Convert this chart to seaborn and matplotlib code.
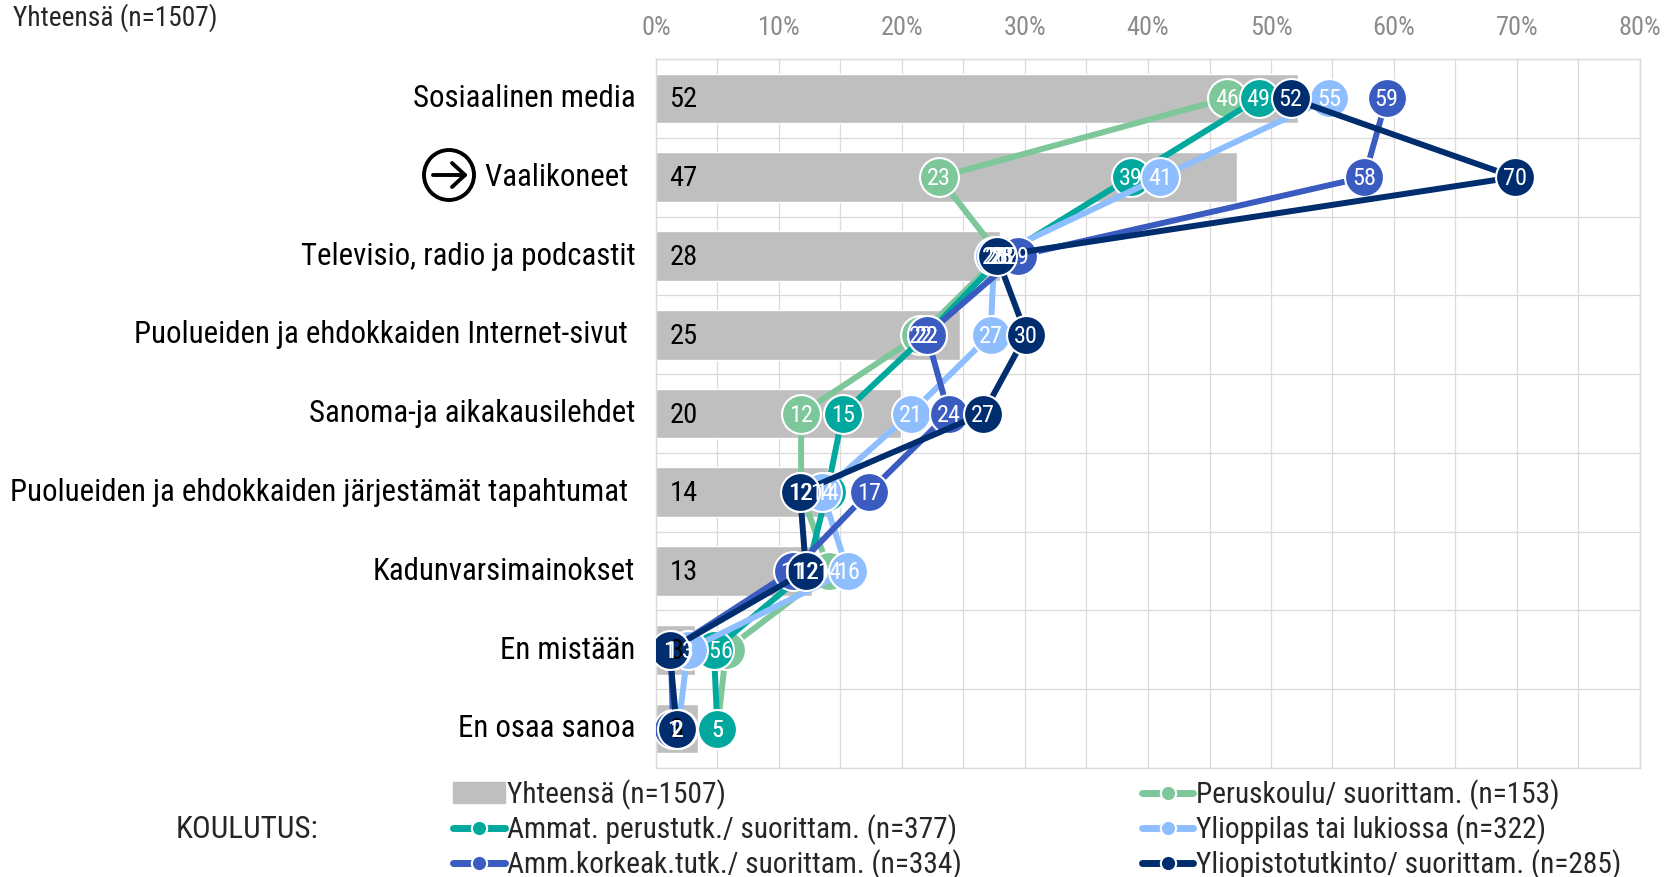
import numpy as np
import seaborn as sns
import matplotlib.pyplot as plt
from matplotlib.lines import Line2D
from matplotlib.patches import Patch, Ellipse
from matplotlib.transforms import ScaledTranslation

# ===============================
# 1. Data
# ===============================
categories = ["Sosiaalinen media", "Vaalikoneet ", "Televisio, radio ja podcastit",
              "Puolueiden ja ehdokkaiden Internet-sivut ", "Sanoma-ja aikakausilehdet",
              "Puolueiden ja ehdokkaiden järjestämät tapahtumat ", "Kadunvarsimainokset",
              "En mistään", "En osaa sanoa"]
total = [52.2, 47.2, 28.0, 24.7, 19.9, 14.0, 12.7, 3.2, 3.4]
peruskoulu = [46.4, 23.0, 28.0, 21.5, 11.8, 11.8, 14.1, 5.7, 5.0]
ammat = [49.0, 38.6, 28.2, 22.0, 15.2, 13.9, 12.3, 4.7, 5.0]
ylioppilas = [54.7, 41.0, 27.5, 27.2, 20.7, 13.5, 15.6, 2.6, 1.8]
ammkork = [59.4, 57.6, 29.4, 22.0, 23.8, 17.3, 11.1, 1.2, 1.4]
yliopisto = [51.6, 69.8, 27.7, 30.1, 26.6, 11.7, 12.2, 1.1, 1.7]

series = [("Peruskoulu/ suorittam. (n=153)", peruskoulu, "#7DC79A"),
          ("Ammat. perustutk./ suorittam. (n=377)", ammat, "#00A89D"),
          ("Ylioppilas tai lukiossa (n=322)", ylioppilas, "#8FBEFF"),
          ("Amm.korkeak.tutk./ suorittam. (n=334)", ammkork, "#3A5BC0"),
          ("Yliopistotutkinto/ suorittam. (n=285)", yliopisto, "#002D6E")]
legend_order = [1, 3, 0, 2, 4]
xticks = [0, 10, 20, 30, 40, 50, 60, 70, 80]
rows = np.arange(len(categories))

# ===============================
# 2. Figure
# ===============================
sns.set_style("white")
plt.rcParams['font.family'] = ['Roboto Condensed', 'Liberation Sans', 'DejaVu Sans']

W, H = 1665, 877
fig = plt.figure(figsize=(W / 100, H / 100), dpi=100)
ax = fig.add_axes([656 / W, 1 - 768 / H, (1640 - 656) / W, (768 - 59) / H])

sns.barplot(x=total, y=rows, orient='h', color="#BFBFBF", saturation=1, width=0.63, ax=ax, zorder=2)

ax.set_xlim(0, 80)
ax.set_ylim(len(categories) - 0.5, -0.5)
ax.set_xlabel("")
ax.set_ylabel("")
ax.xaxis.tick_top()
ax.set_xticks(xticks, [f"{x}%" for x in xticks], color="#8C8C8C", fontsize=19)
ax.set_xticks(np.arange(0, 81, 5), minor=True)
ax.set_yticks(rows, categories, fontsize=22.2, color='black')
ax.set_yticks(np.arange(-0.5, len(categories)), minor=True)
ax.tick_params(axis='both', which='both', length=0)
ax.tick_params(axis='x', pad=14)
ax.tick_params(axis='y', pad=15)
ax.grid(True, which='both', color="#DADADA", linewidth=0.9, zorder=0)
ax.yaxis.grid(False, which='major')
ax.set_axisbelow(True)
for s in ax.spines.values():
    s.set_visible(True)
    s.set_color("#DADADA")
    s.set_linewidth(1.0)

# category labels sit a little above the row centre
up = ScaledTranslation(0, 2 / 72, fig.dpi_scale_trans)
for lab in ax.get_yticklabels():
    lab.set_transform(lab.get_transform() + up)

# ===============================
# 3. Lines with numbered markers
# ===============================
for i, (name, vals, col) in enumerate(series):
    z = 3 + i
    sns.lineplot(x=vals, y=rows, orient='y', sort=False, estimator=None, color=col,
                 linewidth=4.3, marker='o', markersize=28, markeredgecolor='white',
                 markeredgewidth=1.5, ax=ax, zorder=z, legend=False)

for j, v in enumerate(total):
    ax.text(1.1, j + 0.02, f"{v:.0f}", ha='left', va='center', fontsize=20.5, color='black', zorder=20)

for i, (name, vals, col) in enumerate(series):
    for j, v in enumerate(vals):
        ax.text(v, j + 0.02, f"{v:.0f}", ha='center', va='center', fontsize=17.5, color='white', zorder=21 + i)

# ===============================
# 4. Texts, arrow icon, legend
# ===============================
fig.text(13 / W, 1 - 18 / H, "Yhteensä (n=1507)", fontsize=19.7, va='center', ha='left')
fig.text(176 / W, 1 - 829 / H, "KOULUTUS:", fontsize=22.5, va='center', ha='left')

fig.add_artist(Ellipse((449 / W, 1 - 175 / H), 50 / W, 50 / H, transform=fig.transFigure,
                       facecolor='white', edgecolor='black', linewidth=2.8))
fig.add_artist(Line2D([433 / W, 465 / W], [1 - 175 / H, 1 - 175 / H], color='black', lw=2.8,
                      transform=fig.transFigure))
fig.add_artist(Line2D([452 / W, 465 / W, 452 / W], [1 - 163 / H, 1 - 175 / H, 1 - 187 / H], color='black', lw=2.8,
                      transform=fig.transFigure))

handles = [Patch(color="#BFBFBF", label="Yhteensä (n=1507)")]
for i in legend_order:
    name, vals, col = series[i]
    handles.append(Line2D([], [], color=col, linewidth=5, marker='o', markersize=11,
                          markeredgecolor='white', markeredgewidth=1.5, label=name))
fig.legend(handles=handles, ncols=2, frameon=False, fontsize=21.2,
           loc='upper left', bbox_to_anchor=(453 / W, 1 - 779 / H), bbox_transform=fig.transFigure,
           borderpad=0, borderaxespad=0, handlelength=1.75, handletextpad=0.1,
           labelspacing=0.15, columnspacing=6.1)

fig.savefig("out.png", dpi=100)
